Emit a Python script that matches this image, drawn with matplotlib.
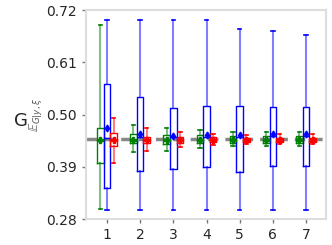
#!/usr/bin/env python3

import matplotlib
matplotlib.use("Agg")
import matplotlib.pyplot as plt


groups = [1, 2, 3, 4, 5, 6, 7]
ref_value = 0.448

# per group: lower whisker, q1, median, q3, upper whisker, mean
green_lo = [0.301, 0.422, 0.423, 0.430, 0.434, 0.434, 0.433]
green_q1 = [0.398, 0.441, 0.439, 0.440, 0.441, 0.441, 0.441]
green_med = [0.446, 0.447, 0.447, 0.447, 0.447, 0.447, 0.447]
green_q3 = [0.472, 0.459, 0.457, 0.456, 0.455, 0.455, 0.455]
green_hi = [0.688, 0.479, 0.471, 0.467, 0.464, 0.464, 0.464]
green_mean = [0.446, 0.447, 0.447, 0.447, 0.447, 0.447, 0.447]

blue_lo = [0.300, 0.300, 0.300, 0.300, 0.300, 0.300, 0.300]
blue_q1 = [0.346, 0.381, 0.385, 0.390, 0.378, 0.391, 0.391]
blue_med = [0.450, 0.452, 0.452, 0.452, 0.452, 0.455, 0.455]
blue_q3 = [0.564, 0.537, 0.513, 0.519, 0.517, 0.515, 0.516]
blue_hi = [0.699, 0.699, 0.699, 0.699, 0.681, 0.675, 0.667]
blue_mean = [0.472, 0.460, 0.455, 0.456, 0.456, 0.460, 0.459]

red_lo = [0.399, 0.424, 0.432, 0.436, 0.438, 0.438, 0.438]
red_q1 = [0.434, 0.441, 0.441, 0.442, 0.442, 0.442, 0.442]
red_med = [0.447, 0.447, 0.447, 0.447, 0.447, 0.447, 0.447]
red_q3 = [0.462, 0.453, 0.452, 0.452, 0.451, 0.451, 0.451]
red_hi = [0.493, 0.472, 0.464, 0.460, 0.457, 0.460, 0.458]
red_mean = [0.447, 0.447, 0.447, 0.447, 0.447, 0.447, 0.447]


def make_stats(lo, q1, med, q3, hi, mean):
    return [dict(whislo=a, q1=b, med=c, q3=d, whishi=e, mean=f, fliers=[])
            for a, b, c, d, e, f in zip(lo, q1, med, q3, hi, mean)]


def draw(ax, stats, offset, color, marker, msize):
    pos = [g + offset for g in groups]
    ax.bxp(stats, positions=pos, widths=0.2, showmeans=True,
           manage_ticks=False,
           boxprops=dict(color=color, linewidth=1.0),
           whiskerprops=dict(color=color, linewidth=1.5, alpha=0.5),
           capprops=dict(color=color, linewidth=1.2),
           medianprops=dict(color=color, linewidth=1.0),
           meanprops=dict(marker=marker, markerfacecolor=color,
                          markeredgecolor=color, markersize=msize))


fig = plt.figure(figsize=(3.32, 2.45), dpi=100)
ax = fig.add_axes([0.259, 0.106, 0.723, 0.853])

ax.axhline(ref_value, color="dimgray", linewidth=2.5, linestyle=(0, (3, 2)),
           alpha=0.8, zorder=1)

draw(ax, make_stats(green_lo, green_q1, green_med, green_q3, green_hi, green_mean),
     -0.2, "green", "P", 4.5)
draw(ax, make_stats(blue_lo, blue_q1, blue_med, blue_q3, blue_hi, blue_mean),
     0.0, "blue", "d", 3.5)
draw(ax, make_stats(red_lo, red_q1, red_med, red_q3, red_hi, red_mean),
     0.2, "red", "P", 4.5)

ax.set_xlim(0.37, 7.6)
ax.set_ylim(0.28, 0.72)
ax.set_xticks(groups)
ax.set_xticklabels([str(g) for g in groups])
ax.set_yticks([0.28, 0.39, 0.50, 0.61, 0.72])
ax.set_yticklabels(["0.28", "0.39", "0.50", "0.61", "0.72"])

for s in ax.spines.values():
    s.set_color("#dddddd")
    s.set_linewidth(1.5)
ax.tick_params(axis="both", colors="#262626", labelsize=10, length=3,
               width=1, direction="out")
ax.tick_params(axis="both", color="#777777")

ax.set_ylabel(r"$\mathbb{E}_{G|y,\xi}$", fontsize=9, color="#555555")
ax.yaxis.set_label_coords(-0.175, 0.5)
fig.text(0.063, 0.505, "G", fontsize=13, color="#262626", ha="center", va="center")

fig.savefig("out.png", dpi=100)
